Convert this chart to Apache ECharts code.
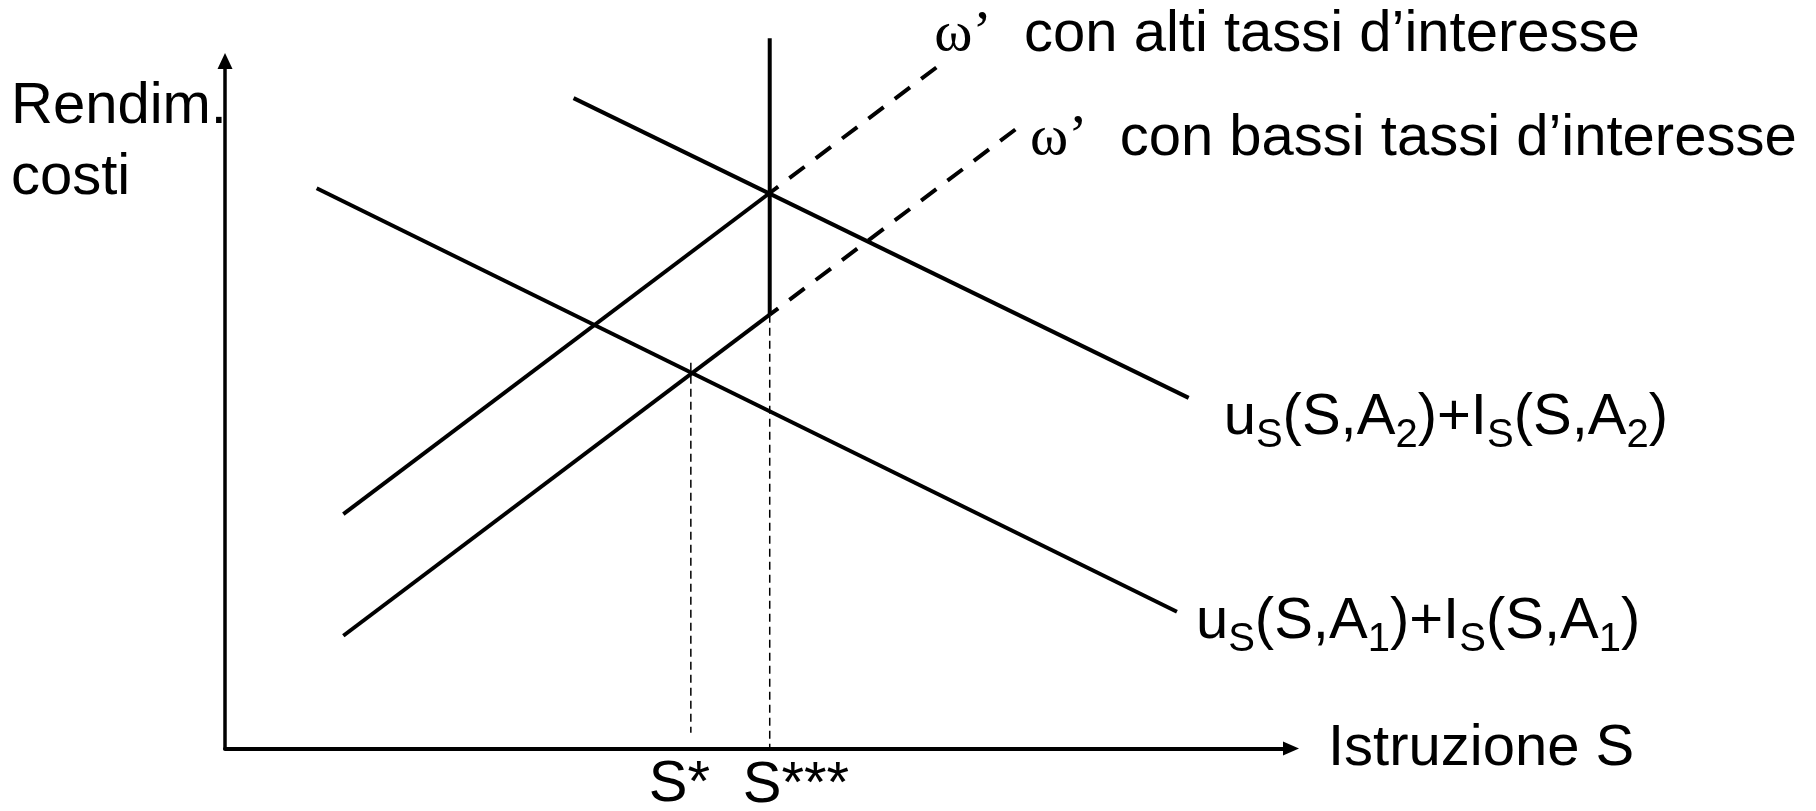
<!DOCTYPE html>
<html>
<head>
<meta charset="utf-8">
<script src="https://cdn.jsdelivr.net/npm/echarts@6/dist/echarts.min.js"></script>
<style>
  html, body { margin: 0; padding: 0; background: #fff; }
  #chart { width: 1816px; height: 811px; }
</style>
</head>
<body>
<div id="chart"></div>
<script>
// rendimenti marginali u_S + I_S per le due abilita'
const curveA2 = [[32.7, 94.6], [90.4, 51.0]];
const curveA1 = [[8.6, 81.5], [89.3, 19.9]];
// costo omega' : tratto pieno fino al vincolo, poi tratteggiato
const omegaAltiSolid = [[11.1, 34.1], [51.1, 80.8]];
const omegaAltiDash = [[51.1, 80.8], [67.2, 99.6]];
const omegaBassiSolid = [[11.1, 16.4], [51.1, 63.1]];
const omegaBassiDash = [[51.1, 63.1], [74.2, 90.1]];
// vincolo verticale e livelli di istruzione
const vincolo = [[51.1, 103.3], [51.1, 63.1]];
const sStar = [[43.7, 56.1], [43.7, 2.3]];
const sTriple = [[51.1, 63.1], [51.1, 0]];

const labelA2 = '{m|u}{s|S}{m|(S,A}{s|2}{m|)+I}{s|S}{m|(S,A}{s|2}{m|)}';
const labelA1 = '{m|u}{s|S}{m|(S,A}{s|1}{m|)+I}{s|S}{m|(S,A}{s|1}{m|)}';
const labelAlti = '{w|ω’}{m|  con alti tassi d’interesse}';
const labelBassi = '{w|ω’}{m|  con bassi tassi d’interesse}';
const xName = 'Istruzione S';
const yName = 'Rendim.\ncosti';

const FONT = 'Liberation Sans, Arial, sans-serif';
const rich = {
  m: { fontFamily: FONT, fontSize: 58, lineHeight: 58, color: '#000' },
  s: { fontFamily: FONT, fontSize: 40, lineHeight: 40, padding: [36, 0, 0, 0], color: '#000' },
  w: { fontFamily: 'Liberation Serif, DejaVu Serif, serif', fontSize: 58, lineHeight: 58, color: '#000' }
};

function segment(data, style, label, offset) {
  const s = {
    type: 'line',
    data: data,
    symbol: 'none',
    showSymbol: false,
    clip: false,
    silent: true,
    animation: false,
    lineStyle: Object.assign({ color: '#000', width: 4 }, style)
  };
  if (label) {
    s.endLabel = {
      show: true,
      formatter: () => label,
      distance: 0,
      offset: offset,
      align: 'left',
      verticalAlign: 'middle',
      color: '#000',
      fontFamily: FONT,
      fontSize: 58,
      rich: rich
    };
  }
  return s;
}

const chart = echarts.init(document.getElementById('chart'));
chart.setOption({
  backgroundColor: '#fff',
  animation: false,
  title: {
    text: yName,
    left: 11,
    top: 71,
    padding: 0,
    textStyle: { fontFamily: FONT, fontSize: 58, fontWeight: 'normal', lineHeight: 71, color: '#000' }
  },
  grid: { left: 225, top: 61, width: 1066, height: 687.5, outerBoundsMode: 'none' },
  xAxis: {
    type: 'value', min: 0, max: 100,
    axisLine: { show: true, onZero: false, symbol: ['none', 'triangle'], symbolSize: [14, 16],
      lineStyle: { color: '#000', width: 4 } },
    axisTick: { show: false }, axisLabel: { show: false }, splitLine: { show: false },
    name: xName, nameLocation: 'end', nameGap: 37,
    nameTextStyle: { fontFamily: FONT, fontSize: 58, color: '#000', align: 'left',
      verticalAlign: 'middle', padding: [0, 0, 11, 0] }
  },
  yAxis: {
    type: 'value', min: 0, max: 100,
    axisLine: { show: true, onZero: false, symbol: ['none', 'triangle'], symbolSize: [15, 16],
      lineStyle: { color: '#000', width: 3.5 } },
    axisTick: { show: false }, axisLabel: { show: false }, splitLine: { show: false }
  },
  series: [
    segment(sStar, { width: 1.5, type: [8, 5] }, 'S*', [-42, 52]),
    segment(sTriple, { width: 1.5, type: [8, 5] }, 'S***', [-27, 37]),
    segment(curveA2, {}, labelA2, [35, 20]),
    segment(curveA1, {}, labelA1, [19, 10]),
    segment(omegaAltiSolid, {}),
    segment(omegaAltiDash, { type: [19, 14], dashOffset: 8.4 }, labelAlti, [-7, -29]),
    segment(omegaBassiSolid, {}),
    segment(omegaBassiDash, { type: [19, 14], dashOffset: 8.4 }, labelBassi, [14, 10]),
    segment(vincolo, {})
  ]
});
</script>
</body>
</html>
